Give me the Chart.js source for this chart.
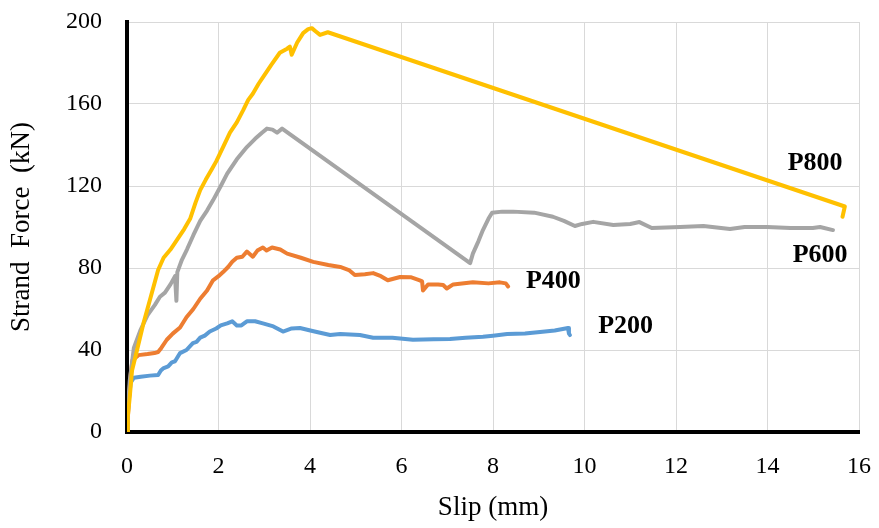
<!DOCTYPE html>
<html lang="en">
<head>
  <meta charset="UTF-8">
  <title>Strand Force vs Slip</title>
  <script src="https://cdn.jsdelivr.net/npm/chart.js"></script>
  <style>
    body {
      margin: 0;
      background-color: #fff;
    }

    .chart-box {
      width: 879px;
      height: 528px;
    }
  </style>
</head>
<body>
  <div class="chart-box">
    <canvas id="slip-chart"></canvas>
  </div>

  <script>
    // Pull-out curves, slip in mm / strand force in kN
    const p800Slip = [0, 0.02, 0.06, 0.11, 0.22, 0.36, 0.52, 0.68, 0.8, 0.95, 1.1, 1.25, 1.38, 1.5, 1.6, 1.72, 1.85, 1.95, 2.1, 2.25, 2.4, 2.54, 2.65, 2.75, 2.88, 2.97, 3.15, 3.34, 3.5, 3.56, 3.6, 3.72, 3.85, 3.96, 4.04, 4.12, 4.22, 4.39, 15.69, 15.64];
    const p800Force = [0, 8, 17, 30, 40, 53, 66, 79, 85, 89, 94, 99, 104, 112, 118, 123, 128, 132, 139, 146, 151, 157, 162, 165, 170, 173, 179, 185, 187, 188, 184, 190, 194.6, 196.5, 197, 195.5, 193.7, 195, 110, 105];

    const p600Slip = [0, 0.02, 0.06, 0.15, 0.3, 0.45, 0.61, 0.72, 0.83, 0.95, 1.05, 1.08, 1.1, 1.2, 1.31, 1.45, 1.6, 1.75, 1.88, 2.05, 2.19, 2.4, 2.62, 2.8, 2.95, 3.06, 3.18, 3.28, 3.39, 7.5, 7.56, 7.68, 7.78, 7.9, 7.98, 8.2, 8.44, 8.9, 9.31, 9.55, 9.79, 9.95, 10.19, 10.63, 11.0, 11.2, 11.47, 12.09, 12.6, 13.18, 13.5, 13.99, 14.5, 14.99, 15.15, 15.43];
    const p600Force = [0, 12, 25, 41, 50, 57, 62, 66, 68, 72, 76, 64, 78, 84, 89, 96, 103, 108, 113, 120, 126, 133, 139, 143, 146, 148, 147.5, 146, 148, 82.4, 87, 93, 98.5, 104, 107, 107.5, 107.5, 107, 105, 103, 100.5, 101.5, 102.5, 101, 101.5, 102.4, 99.5, 100, 100.5, 99, 100, 100, 99.5, 99.5, 100, 98.5];

    const p400Slip = [0, 0.04, 0.08, 0.12, 0.25, 0.45, 0.6, 0.68, 0.75, 0.87, 1.0, 1.16, 1.3, 1.45, 1.6, 1.75, 1.88, 2.0, 2.1, 2.21, 2.3, 2.4, 2.52, 2.62, 2.75, 2.85, 2.97, 3.05, 3.17, 3.35, 3.5, 3.8, 4.07, 4.4, 4.66, 4.85, 4.98, 5.2, 5.38, 5.55, 5.7, 5.97, 6.2, 6.4, 6.45, 6.47, 6.58, 6.8, 6.91, 6.99, 7.13, 7.56, 7.9, 8.15, 8.28, 8.33];
    const p400Force = [0, 15, 28, 35, 37.5, 38, 38.5, 39, 41, 45, 48, 51, 56, 60, 65, 69, 74, 76, 78, 80.5, 83, 85, 85.5, 88, 85.5, 88.5, 90, 88.5, 90, 89, 87, 85, 83, 81.5, 80.5, 79, 76.6, 77, 77.5, 76, 74, 75.6, 75.5, 74, 73.5, 69, 72, 72, 71.7, 70, 72, 73, 72.5, 73, 72.5, 71];

    const p200Slip = [0, 0.03, 0.08, 0.15, 0.3, 0.5, 0.68, 0.74, 0.79, 0.9, 0.98, 1.05, 1.16, 1.3, 1.44, 1.52, 1.6, 1.7, 1.81, 1.95, 2.05, 2.19, 2.3, 2.4, 2.5, 2.62, 2.8, 2.97, 3.2, 3.41, 3.6, 3.78, 4.1, 4.44, 4.66, 5.09, 5.38, 5.8, 6.25, 6.7, 7.06, 7.4, 7.78, 8.0, 8.31, 8.7, 9.03, 9.35, 9.64, 9.66, 9.68];
    const p200Force = [0, 14, 24, 26.5, 27, 27.5, 27.8, 30, 31, 32, 34, 34.5, 38.5, 40, 43.4, 44, 46, 47, 49, 50.5, 52, 53, 54, 52, 52, 54, 54, 53, 51.5, 49, 50.5, 50.7, 49, 47.3, 47.8, 47.3, 46, 46, 45, 45.3, 45.4, 46, 46.5, 47, 47.8, 48, 48.8, 49.5, 50.7, 48, 47.3];

    // Series names and where each name sits (in slip / force units)
    const seriesNames = ["P800", "P600", "P400", "P200"];
    const nameSlip = [15.04, 15.15, 9.32, 10.9];
    const nameForce = [131, 86.3, 73.7, 51.7];

    const slipTicks = [0, 2, 4, 6, 8, 10, 12, 14, 16];
    const forceTicks = [0, 40, 80, 120, 160, 200];

    const colors = ["#FFC000", "#A5A5A5", "#ED7D31", "#5B9BD5"];
    const serif = "'Liberation Serif', 'Times New Roman', serif";

    function toPoints(xs, ys) {
      return xs.map((x, i) => ({ x: x, y: ys[i] }));
    }

    const curves = [
      toPoints(p800Slip, p800Force),
      toPoints(p600Slip, p600Force),
      toPoints(p400Slip, p400Force),
      toPoints(p200Slip, p200Force),
    ];

    // Writes the series names next to their curves
    const seriesNamePlugin = {
      id: "seriesNames",
      afterDatasetsDraw(chart) {
        const ctx = chart.ctx;
        const xs = chart.scales.x;
        const ys = chart.scales.y;
        ctx.save();
        ctx.font = "bold 26px " + serif;
        ctx.fillStyle = "#000";
        ctx.textAlign = "center";
        ctx.textBaseline = "middle";
        seriesNames.forEach((name, i) => {
          ctx.fillText(name, xs.getPixelForValue(nameSlip[i]), ys.getPixelForValue(nameForce[i]));
        });
        ctx.restore();
      },
    };

    // Fixed axis box sizes; edge label overflow is left to the layout padding
    function fixBox(size) {
      return (scale) => {
        if (scale.isHorizontal()) {
          scale.height = size;
        } else {
          scale.width = size;
        }
        scale.paddingTop = 0;
        scale.paddingBottom = 0;
        scale.paddingLeft = 0;
        scale.paddingRight = 0;
      };
    }

    const ctx = document.getElementById("slip-chart").getContext("2d");

    new Chart(ctx, {
      type: "scatter",
      data: {
        datasets: curves.map((pts, i) => ({
          label: seriesNames[i],
          data: pts,
          showLine: true,
          borderColor: colors[i],
          backgroundColor: colors[i],
          borderWidth: 4,
          pointRadius: 0,
          tension: 0,
          borderJoinStyle: "round",
          borderCapStyle: "round",
        })),
      },
      options: {
        responsive: true,
        maintainAspectRatio: false,
        animation: false,
        layout: {
          padding: { top: 22, right: 20, left: 0, bottom: 0 },
        },
        plugins: {
          legend: { display: false },
          tooltip: { enabled: false },
        },
        scales: {
          x: {
            type: "linear",
            min: 0,
            max: 16,
            afterBuildTicks: (scale) => {
              scale.ticks = slipTicks.map((v) => ({ value: v }));
            },
            afterFit: fixBox(96),
            ticks: {
              color: "#000",
              font: { family: serif, size: 24 },
              padding: 20,
              maxRotation: 0,
            },
            grid: { color: "#d9d9d9", lineWidth: 1, drawTicks: false },
            border: { color: "#000", width: 4 },
            title: {
              display: true,
              text: "Slip (mm)",
              color: "#000",
              font: { family: serif, size: 27 },
              padding: { top: 0, bottom: 4 },
            },
          },
          y: {
            min: 0,
            max: 200,
            afterBuildTicks: (scale) => {
              scale.ticks = forceTicks.map((v) => ({ value: v }));
            },
            afterFit: fixBox(127),
            ticks: {
              color: "#000",
              font: { family: serif, size: 24 },
              padding: 25,
            },
            grid: { color: "#d9d9d9", lineWidth: 1, drawTicks: false },
            border: { color: "#000", width: 4 },
            title: {
              display: true,
              text: "Strand  Force  (kN)",
              color: "#000",
              font: { family: serif, size: 27 },
              padding: { top: 6, bottom: 0 },
            },
          },
        },
      },
      plugins: [seriesNamePlugin],
    });
  </script>
</body>
</html>
